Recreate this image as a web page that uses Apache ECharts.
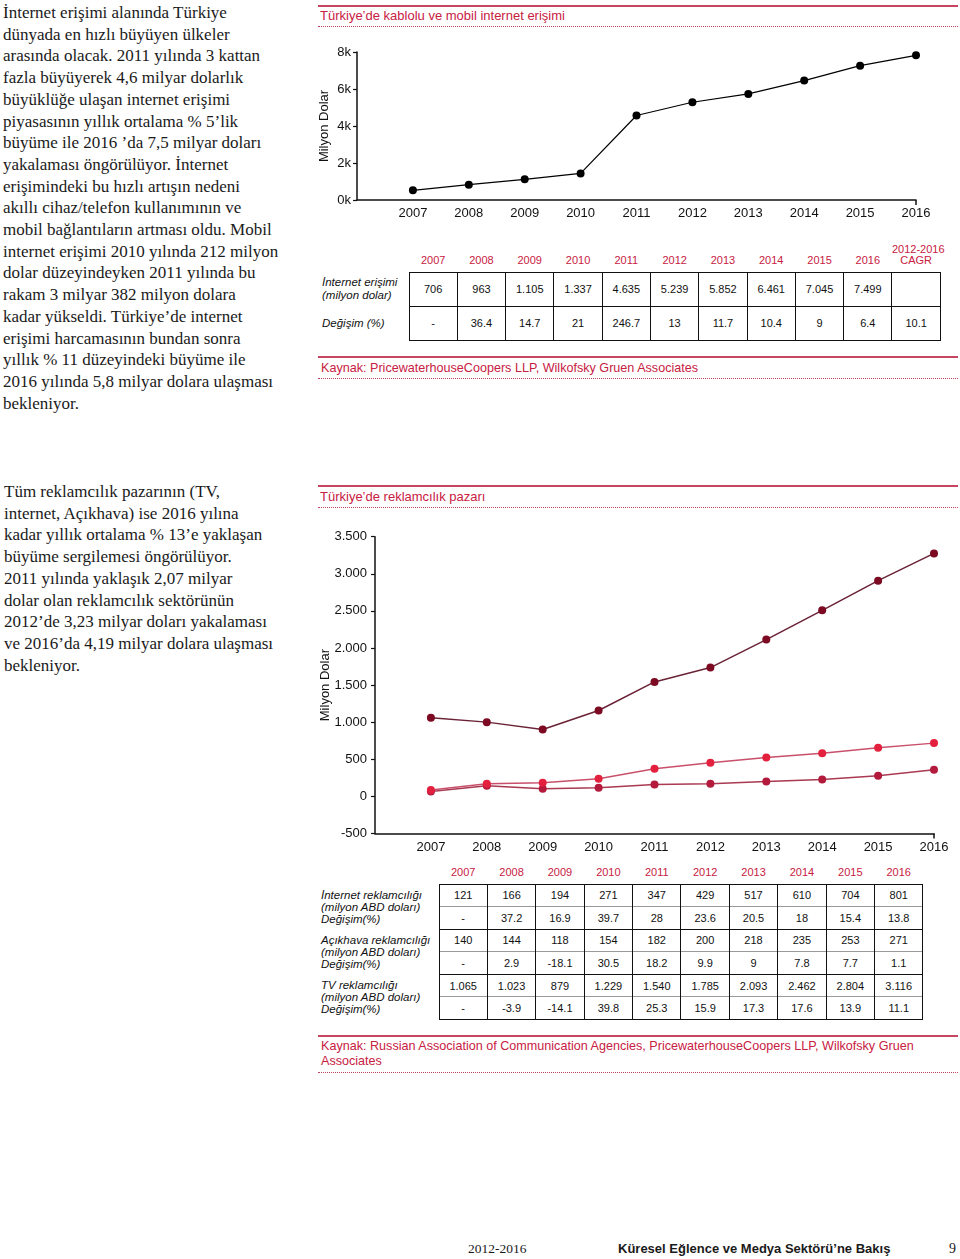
<!DOCTYPE html>
<html lang="tr">
<head>
<meta charset="utf-8">
<title>Türkiye'de internet erişimi ve reklamcılık pazarı</title>
<script src="https://cdn.jsdelivr.net/npm/echarts@6/dist/echarts.min.js"></script>
<style>
  body { margin: 0; width: 960px; height: 1259px; position: relative; background: #fff; overflow: hidden;
         font-family: "Liberation Sans", Arial, sans-serif; color: #1a1a1a; }
  .copy { position: absolute; font-family: "Liberation Serif", serif; font-size: 17px; line-height: 21.7px; white-space: nowrap; }
  .rule { position: absolute; left: 318px; width: 640px; border-top: 2px solid #c64560; }
  .dots { position: absolute; left: 318px; width: 640px; border-top: 1px dotted #c64560; }
  .head { position: absolute; left: 320px; font-size: 13px; line-height: 14px; color: #c8203f; white-space: nowrap; }
  .src { position: absolute; left: 321px; font-size: 12.6px; line-height: 15px; color: #c8203f; white-space: nowrap; }
  .chart { position: absolute; }
  table.t { position: absolute; border-collapse: collapse; table-layout: fixed; font-size: 11px; color: #111; }
  table.t td { padding: 0; text-align: center; white-space: nowrap; }
  table.t tr.hd td { vertical-align: bottom; color: #c8203f; line-height: 11.5px; padding-bottom: 5px; }
  table.t td.lbl { text-align: left; font-style: italic; font-size: 11.5px; vertical-align: middle; }
  table.t td.v { border-left: 1.5px solid #111; border-right: 1.5px solid #111; }
  #t1 td.lbl { padding-left: 4px; line-height: 13px; }
  #t1 td.v { border: 1.5px solid #111; height: 33px; }
  #t2 td.lbl { padding-left: 3px; line-height: 12px; }
  #t2 td.v { height: 21.6px; }
  #t2 tr.g1 td.v { border-top: 1.5px solid #111; }
  #t2 tr.g2 td.v { border-top: 1.5px solid #9a9a9a; }
  #t2 tr.last td.v { border-bottom: 1.5px solid #111; }
  .foot { position: absolute; top: 1241px; line-height: 16px; white-space: nowrap; }
</style>
</head>
<body>

<div class="copy" style="left:3px; top:2px;">
İnternet erişimi alanında Türkiye<br>
dünyada en hızlı büyüyen ülkeler<br>
arasında olacak. 2011 yılında 3 kattan<br>
fazla büyüyerek 4,6 milyar dolarlık<br>
büyüklüğe ulaşan internet erişimi<br>
piyasasının yıllık ortalama % 5’lik<br>
büyüme ile 2016 ’da 7,5 milyar doları<br>
yakalaması öngörülüyor. İnternet<br>
erişimindeki bu hızlı artışın nedeni<br>
akıllı cihaz/telefon kullanımının ve<br>
mobil bağlantıların artması oldu. Mobil<br>
internet erişimi 2010 yılında 212 milyon<br>
dolar düzeyindeyken 2011 yılında bu<br>
rakam 3 milyar 382 milyon dolara<br>
kadar yükseldi. Türkiye’de internet<br>
erişimi harcamasının bundan sonra<br>
yıllık % 11 düzeyindeki büyüme ile<br>
2016 yılında 5,8 milyar dolara ulaşması<br>
bekleniyor.
</div>

<div class="copy" style="left:4px; top:481px;">
Tüm reklamcılık pazarının (TV,<br>
internet, Açıkhava) ise 2016 yılına<br>
kadar yıllık ortalama % 13’e yaklaşan<br>
büyüme sergilemesi öngörülüyor.<br>
2011 yılında yaklaşık 2,07 milyar<br>
dolar olan reklamcılık sektörünün<br>
2012’de 3,23 milyar doları yakalaması<br>
ve 2016’da 4,19 milyar dolara ulaşması<br>
bekleniyor.
</div>

<!-- internet erişimi -->
<div class="rule" style="top:5px;"></div>
<div class="head" style="top:9px;">Türkiye’de kablolu ve mobil internet erişimi</div>
<div class="dots" style="top:26px;"></div>
<div id="c1" class="chart" style="left:300px; top:30px; width:660px; height:200px;"></div>
<table id="t1" class="t" style="left:318px; top:240px; width:622px;"></table>
<div class="rule" style="top:356px;"></div>
<div class="src" style="top:361px;">Kaynak: PricewaterhouseCoopers LLP, Wilkofsky Gruen Associates</div>
<div class="dots" style="top:378px;"></div>

<!-- reklamcılık pazarı -->
<div class="rule" style="top:485px;"></div>
<div class="head" style="top:490px;">Türkiye’de reklamcılık pazarı</div>
<div class="dots" style="top:507px;"></div>
<div id="c2" class="chart" style="left:300px; top:510px; width:660px; height:350px;"></div>
<table id="t2" class="t" style="left:318px; top:860px; width:605px;"></table>
<div class="rule" style="top:1035px;"></div>
<div class="src" style="top:1039px;">Kaynak: Russian Association of Communication Agencies, PricewaterhouseCoopers LLP, Wilkofsky Gruen<br>Associates</div>
<div class="dots" style="top:1072px;"></div>

<div class="foot" style="left:468px; font-family:'Liberation Serif', serif; font-size:13.5px;">2012-2016</div>
<div class="foot" style="left:618px; font-weight:bold; font-size:13px;">Küresel Eğlence ve Medya Sektörü’ne Bakış</div>
<div class="foot" style="left:949px; font-family:'Liberation Serif', serif; font-size:14px;">9</div>

<script>
// yıllar
const years = ['2007', '2008', '2009', '2010', '2011', '2012', '2013', '2014', '2015', '2016'];

// grafik 1: noktalar (milyon dolar)
const accessLine = [521, 827, 1115, 1438, 4566, 5285, 5734, 6453, 7262, 7820];
// tablo 1
const accessValues = ['706', '963', '1.105', '1.337', '4.635', '5.239', '5.852', '6.461', '7.045', '7.499', ''];
const accessChange = ['-', '36.4', '14.7', '21', '246.7', '13', '11.7', '10.4', '9', '6.4', '10.1'];

// grafik 2: noktalar (milyon dolar)
const tvLine = [1059, 1001, 902, 1158, 1543, 1736, 2113, 2508, 2907, 3275];
const webAdLine = [85, 171, 184, 238, 372, 453, 525, 583, 655, 718];
const outdoorLine = [65, 144, 104, 117, 161, 170, 202, 229, 278, 359];

// tablo 2
const webAdValues = ['121', '166', '194', '271', '347', '429', '517', '610', '704', '801'];
const webAdChange = ['-', '37.2', '16.9', '39.7', '28', '23.6', '20.5', '18', '15.4', '13.8'];
const outdoorValues = ['140', '144', '118', '154', '182', '200', '218', '235', '253', '271'];
const outdoorChange = ['-', '2.9', '-18.1', '30.5', '18.2', '9.9', '9', '7.8', '7.7', '1.1'];
const tvValues = ['1.065', '1.023', '879', '1.229', '1.540', '1.785', '2.093', '2.462', '2.804', '3.116'];
const tvChange = ['-', '-3.9', '-14.1', '39.8', '25.3', '15.9', '17.3', '17.6', '13.9', '11.1'];

const font = '"Liberation Sans", Arial, sans-serif';
const ink = '#111';

function dotted(v) {
  const s = String(Math.abs(v)).replace(/\B(?=(\d{3})+(?!\d))/g, '.');
  return v < 0 ? '-' + s : s;
}

function baseX() {
  // boş ilk kategori, eksen 2007'den bir adım önce başlıyor
  return {
    type: 'category',
    boundaryGap: false,
    data: [''].concat(years),
    axisLine: { onZero: false, lineStyle: { color: ink, width: 1.5 } },
    axisTick: { show: true, length: 5, interval: (i) => i === years.length, lineStyle: { color: ink, width: 1.5 } },
    axisLabel: { interval: 0, color: ink, fontSize: 13, fontFamily: font, margin: 7 }
  };
}

function baseY() {
  return {
    type: 'value',
    splitLine: { show: false },
    axisLine: { show: true, lineStyle: { color: ink, width: 1.5 } },
    axisTick: { show: true, length: 4, lineStyle: { color: ink, width: 1.2 } },
    nameLocation: 'middle',
    nameRotate: 90,
    nameMoveOverlap: false,
    nameTextStyle: { color: ink, fontSize: 13, fontFamily: font }
  };
}

function lineSeries(name, values, dot, stroke, w) {
  return {
    name: name,
    type: 'line',
    data: [null].concat(values),
    symbol: 'circle',
    symbolSize: 8,
    itemStyle: { color: dot },
    lineStyle: { color: stroke, width: w }
  };
}

// grafik 1
const chart1 = echarts.init(document.getElementById('c1'));
const y1 = baseY();
y1.min = 0;
y1.max = 8000;
y1.interval = 2000;
y1.name = 'Milyon Dolar';
y1.nameGap = 26;
y1.axisLabel = { color: ink, fontSize: 13, fontFamily: font, margin: 6, formatter: (v) => v / 1000 + 'k' };
chart1.setOption({
  animation: false,
  grid: { left: 57, right: 44, top: 22, bottom: 30 },
  xAxis: baseX(),
  yAxis: y1,
  series: [lineSeries('İnternet erişimi', accessLine, '#000', '#000', 1.2)]
});

// grafik 2
const chart2 = echarts.init(document.getElementById('c2'));
const y2 = baseY();
y2.min = -500;
y2.max = 3500;
y2.interval = 500;
y2.name = 'Milyon Dolar';
y2.nameGap = 43;
y2.axisLabel = { color: ink, fontSize: 13, fontFamily: font, margin: 8, formatter: dotted };
chart2.setOption({
  animation: false,
  grid: { left: 75, right: 26, top: 26.7, bottom: 26.5 },
  xAxis: baseX(),
  yAxis: y2,
  series: [
    lineSeries('Açıkhava reklamcılığı', outdoorLine, '#b31a3c', '#a93a52', 1.5),
    lineSeries('İnternet reklamcılığı', webAdLine, '#e3213f', '#c9506a', 1.5),
    lineSeries('TV reklamcılığı', tvLine, '#7c0a22', '#6a2236', 1.5)
  ]
});

// tablo 1
function cells(arr) {
  return arr.map((v) => '<td class="v">' + v + '</td>').join('');
}

(function () {
  let h = '<colgroup><col style="width:91px">';
  for (let i = 0; i <= years.length; i++) h += '<col style="width:48.3px">';
  h += '</colgroup>';
  h += '<tr class="hd"><td style="height:27px"></td>' + years.map((y) => '<td>' + y + '</td>').join('') + '<td>2012-2016<br>CAGR</td></tr>';
  h += '<tr><td class="lbl">İnternet erişimi<br>(milyon dolar)</td>' + cells(accessValues) + '</tr>';
  h += '<tr><td class="lbl">Değişim (%)</td>' + cells(accessChange) + '</tr>';
  document.getElementById('t1').innerHTML = h;
})();

// tablo 2
(function () {
  const groups = [
    ['İnternet reklamcılığı', webAdValues, webAdChange],
    ['Açıkhava reklamcılığı', outdoorValues, outdoorChange],
    ['TV reklamcılığı', tvValues, tvChange]
  ];
  let h = '<colgroup><col style="width:121px">';
  for (let i = 0; i < years.length; i++) h += '<col style="width:48.4px">';
  h += '</colgroup>';
  h += '<tr class="hd"><td style="height:19px"></td>' + years.map((y) => '<td>' + y + '</td>').join('') + '</tr>';
  groups.forEach((g, i) => {
    h += '<tr class="g1"><td class="lbl" rowspan="2">' + g[0] + '<br>(milyon ABD doları)<br>Değişim(%)</td>' + cells(g[1]) + '</tr>';
    h += '<tr class="g2' + (i === groups.length - 1 ? ' last' : '') + '">' + cells(g[2]) + '</tr>';
  });
  document.getElementById('t2').innerHTML = h;
})();
</script>
</body>
</html>
